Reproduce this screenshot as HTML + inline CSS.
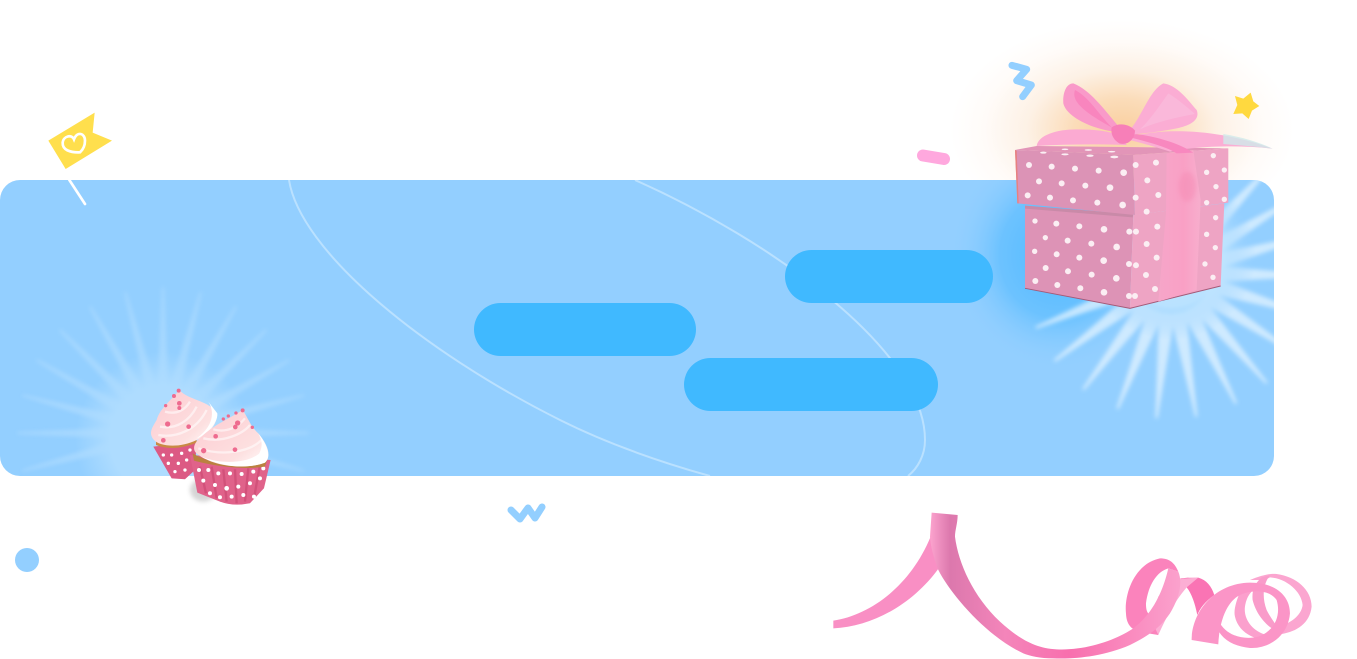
<!DOCTYPE html>
<html><head><meta charset="utf-8"><style>html,body{margin:0;padding:0;background:#fff;width:1357px;height:659px;overflow:hidden}svg{display:block}</style></head>
<body>
<svg width="1357" height="659" viewBox="0 0 1357 659" xmlns="http://www.w3.org/2000/svg">
<defs>
<clipPath id="p"><rect x="0" y="180" width="1274" height="296" rx="20"/></clipPath>
<filter id="b1" x="-50%" y="-50%" width="200%" height="200%"><feGaussianBlur stdDeviation="2"/></filter>
<filter id="b2" x="-50%" y="-50%" width="200%" height="200%"><feGaussianBlur stdDeviation="6"/></filter>
<radialGradient id="orange"><stop offset="0" stop-color="#f9cf9f"/><stop offset=".28" stop-color="#fbdcb9"/><stop offset=".55" stop-color="#fdf1e5"/><stop offset=".8" stop-color="#fffbf8"/><stop offset="1" stop-color="#fff"/></radialGradient>
<radialGradient id="blue"><stop offset="0" stop-color="#4db8ff"/><stop offset=".55" stop-color="#5cbdff" stop-opacity=".7"/><stop offset="1" stop-color="#93cfff" stop-opacity="0"/></radialGradient>
<radialGradient id="lite"><stop offset="0" stop-color="#c8e9ff"/><stop offset=".6" stop-color="#bde4ff" stop-opacity=".9"/><stop offset="1" stop-color="#93cfff" stop-opacity="0"/></radialGradient>
<radialGradient id="lite2"><stop offset="0" stop-color="#aedcff"/><stop offset=".6" stop-color="#aedcff"/><stop offset="1" stop-color="#aedcff" stop-opacity="0"/></radialGradient>
<linearGradient id="rib" gradientUnits="userSpaceOnUse" x1="330" y1="0" x2="1085" y2="0"><stop offset="0" stop-color="#fca3ce"/><stop offset=".08" stop-color="#dc78ad"/><stop offset=".3" stop-color="#f485ba"/><stop offset=".55" stop-color="#f86fae"/><stop offset="1" stop-color="#fba2cd"/></linearGradient>
<linearGradient id="vr" x1="0" y1="0" x2="1" y2="0"><stop offset="0" stop-color="#f6a6c9"/><stop offset=".6" stop-color="#f9a0c5"/><stop offset="1" stop-color="#f7aecd"/></linearGradient>
<linearGradient id="fr" x1="0" y1="0" x2="1" y2="1"><stop offset="0" stop-color="#fdc9d0"/><stop offset=".7" stop-color="#fde0e0"/><stop offset="1" stop-color="#fff"/></linearGradient>
<polygon id="rl" points="30,-6 146,-1 146,1 30,6"/>
<polygon id="rr" points="40,-8 146,-1.200 146,1.200 40,8"/>
</defs>

<!-- glow outside panel -->
<ellipse cx="1122" cy="130" rx="172" ry="110" fill="url(#orange)"/>

<!-- panel -->
<rect x="0" y="180" width="1274" height="296" rx="20" fill="#93cfff"/>
<g clip-path="url(#p)">
  <g fill="#c9e8ff" opacity=".36" filter="url(#b1)" transform="translate(163 433)">
    <use href="#rl" transform="rotate(-195)"/><use href="#rl" transform="rotate(-180)"/><use href="#rl" transform="rotate(-165)"/><use href="#rl" transform="rotate(-150)"/><use href="#rl" transform="rotate(-135)"/><use href="#rl" transform="rotate(-120)"/><use href="#rl" transform="rotate(-105)"/><use href="#rl" transform="rotate(-90)"/><use href="#rl" transform="rotate(-75)"/><use href="#rl" transform="rotate(-60)"/><use href="#rl" transform="rotate(-45)"/><use href="#rl" transform="rotate(-30)"/><use href="#rl" transform="rotate(-15)"/><use href="#rl" transform="rotate(0)"/><use href="#rl" transform="rotate(15)"/>
  </g>
  <circle cx="163" cy="440" r="88" fill="url(#lite2)"/>
  <path d="M289 180C300 250 420 350 560 420C610 445 660 462 710 476" fill="none" stroke="#d4ecff" stroke-opacity=".6" stroke-width="2"/>
  <path d="M635 180C770 240 925 350 925 440C925 455 918 468 908 476" fill="none" stroke="#d4ecff" stroke-opacity=".6" stroke-width="2"/>
  <ellipse cx="1060" cy="255" rx="110" ry="115" fill="url(#blue)"/>
  <g fill="#e0f2ff" opacity=".78" filter="url(#b1)" transform="translate(1171 273)">
    <use href="#rr" transform="rotate(158)"/><use href="#rr" transform="rotate(143)"/><use href="#rr" transform="rotate(127)"/><use href="#rr" transform="rotate(111.500)"/><use href="#rr" transform="rotate(95.700)"/><use href="#rr" transform="rotate(80)"/><use href="#rr" transform="rotate(63.500)"/><use href="#rr" transform="rotate(49)"/><use href="#rr" transform="rotate(33)"/><use href="#rr" transform="rotate(17)"/><use href="#rr" transform="rotate(1)"/><use href="#rr" transform="rotate(-15)"/><use href="#rr" transform="rotate(-31)"/><use href="#rr" transform="rotate(-47)"/>
  </g>
  <circle cx="1171" cy="255" r="85" fill="url(#lite)"/>
</g>

<!-- pills -->
<rect x="785" y="250" width="208" height="53" rx="26.500" fill="#40b9ff"/>
<rect x="474" y="303" width="222" height="53" rx="26.500" fill="#40b9ff"/>
<rect x="684" y="358" width="254" height="53" rx="26.500" fill="#40b9ff"/>

<!-- small decorations -->
<g transform="translate(30 100) scale(.3333)">
  <polygon points="55,122 194,38 188,98 246,122 107,207" fill="#ffdf4d"/>
  <path d="M150 157C120 158 97 150 98 128C100 108 125 102 132 118C142 92 165 100 165 122C165 138 158 150 150 157Z" fill="none" stroke="#fff" stroke-width="8"/>
  <line x1="118" y1="240" x2="165" y2="312" stroke="#fff" stroke-width="8" stroke-linecap="round"/>
</g>
<g transform="translate(980 40) scale(.3333)">
  <polyline points="96,76 140,88 110,122 154,135 128,170" fill="none" stroke="#93cfff" stroke-width="21" stroke-linecap="round" stroke-linejoin="round"/>
  <polygon points="812,158 820,184 838,198 816,212 806,237 787,220 760,222 772,195 765,168 790,176" fill="#ffd93f"/>
</g>
<line x1="923" y1="155.500" x2="944" y2="159" stroke="#ffa8de" stroke-width="12" stroke-linecap="round"/>
<polyline points="511,510 520,519 528,508 535,518 542,507" fill="none" stroke="#93cfff" stroke-width="7" stroke-linecap="round" stroke-linejoin="round"/>
<circle cx="27" cy="560" r="12" fill="#93cfff"/>

<!-- gift box -->
<g transform="translate(980 40) scale(.3333)">
  <polygon points="135,497 460,525 450,805 135,745" fill="#dd93b6"/>
  <polygon points="460,525 733,490 722,738 450,805" fill="#eea4c4"/>
  <polygon points="135,497 460,522 458,532 135,506" fill="#c98aa8"/>
  <polygon points="105,330 170,318 745,325 460,345" fill="#e295b8"/>
  <polygon points="105,330 460,345 465,525 112,490" fill="#dc93b6"/>
  <polygon points="460,345 745,325 745,488 465,525" fill="#eea4c4"/>
  <polygon points="105,330 110,332 116,490 112,490" fill="#e8817f"/>
  <path d="M135 745L450 805L722 738" fill="none" stroke="#a45a78" stroke-width="3"/>
  <g fill="#fbeef3">
    <circle cx="147" cy="375" r="9"/><circle cx="215" cy="380" r="9"/><circle cx="285" cy="386" r="9"/><circle cx="356" cy="392" r="9"/><circle cx="431" cy="398" r="10"/>
    <circle cx="177" cy="424" r="9"/><circle cx="245" cy="430" r="9"/><circle cx="316" cy="437" r="9"/><circle cx="390" cy="443" r="10"/>
    <circle cx="143" cy="466" r="9"/><circle cx="210" cy="473" r="9"/><circle cx="279" cy="481" r="9"/><circle cx="352" cy="488" r="9"/><circle cx="428" cy="495" r="10"/>
    <circle cx="165" cy="543" r="8"/><circle cx="229" cy="551" r="9"/><circle cx="298" cy="559" r="9"/><circle cx="372" cy="568" r="10"/><circle cx="448" cy="575" r="9"/>
    <circle cx="196" cy="593" r="8"/><circle cx="263" cy="602" r="9"/><circle cx="334" cy="611" r="9"/><circle cx="410" cy="621" r="10"/>
    <circle cx="164" cy="634" r="8"/><circle cx="230" cy="643" r="9"/><circle cx="298" cy="653" r="9"/><circle cx="371" cy="662" r="10"/><circle cx="447" cy="672" r="9"/>
    <circle cx="197" cy="684" r="9"/><circle cx="264" cy="694" r="9"/><circle cx="335" cy="704" r="9"/><circle cx="409" cy="715" r="10"/><circle cx="447" cy="768" r="9"/>
    <circle cx="166" cy="723" r="9"/><circle cx="232" cy="735" r="9"/><circle cx="301" cy="745" r="9"/><circle cx="372" cy="757" r="10"/>
    <circle cx="467" cy="375" r="9"/><circle cx="528" cy="368" r="9"/><circle cx="700" cy="347" r="8"/><circle cx="680" cy="397" r="8"/><circle cx="733" cy="390" r="8"/><circle cx="502" cy="421" r="9"/><circle cx="708" cy="440" r="8"/><circle cx="467" cy="473" r="9"/><circle cx="535" cy="465" r="9"/><circle cx="680" cy="488" r="8"/><circle cx="733" cy="478" r="8"/>
    <circle cx="500" cy="515" r="9"/><circle cx="532" cy="560" r="9"/><circle cx="707" cy="533" r="8"/><circle cx="468" cy="575" r="9"/><circle cx="500" cy="612" r="9"/><circle cx="680" cy="583" r="8"/><circle cx="706" cy="623" r="8"/><circle cx="468" cy="676" r="9"/><circle cx="530" cy="653" r="9"/><circle cx="675" cy="672" r="8"/><circle cx="498" cy="705" r="9"/><circle cx="525" cy="747" r="9"/><circle cx="699" cy="712" r="8"/><circle cx="465" cy="768" r="9"/>
    <ellipse cx="190" cy="338" rx="10" ry="3"/><ellipse cx="255" cy="343" rx="11" ry="3"/><ellipse cx="330" cy="347" rx="11" ry="3.500"/><ellipse cx="403" cy="351" rx="12" ry="4"/><ellipse cx="255" cy="328" rx="10" ry="2.500"/><ellipse cx="325" cy="330" rx="11" ry="2.500"/><ellipse cx="395" cy="335" rx="11" ry="2.500"/>
  </g>
  <!-- vertical ribbon -->
  <polygon points="560,340 640,330 662,480 650,750 535,785 558,520" fill="url(#vr)"/>
  <ellipse cx="622" cy="440" rx="26" ry="45" fill="#f58bb4" opacity=".5" filter="url(#b2)"/>
  <!-- ribbon tails -->
  <path d="M170 318C175 285 230 268 290 268C340 268 390 272 430 290L440 315C360 312 260 312 170 318Z" fill="#fbaad2"/>
  <path d="M450 290C560 262 720 268 878 326C760 312 620 322 570 335C520 318 480 308 450 300Z" fill="#fbaed4"/>
  <path d="M730 282C790 292 840 308 878 326C830 320 780 316 730 312Z" fill="#cfeaea" opacity=".8"/>
  <path d="M450 292C500 305 560 320 590 340L640 338C590 305 510 285 450 280Z" fill="#f888bf"/>
  <!-- bow -->
  <path d="M415 258C370 205 330 150 280 130C258 130 248 160 250 190C258 225 320 262 400 275Z" fill="#f99ac9"/>
  <path d="M285 150C275 180 300 210 395 262C350 215 325 170 285 150Z" fill="#f985be"/>
  <path d="M450 270C490 220 510 150 550 130C590 135 620 175 650 210C660 235 640 255 590 265C540 275 490 280 450 285Z" fill="#fbadd4"/>
  <path d="M480 268C530 245 600 230 645 222C620 200 590 175 565 160C540 195 510 240 480 268Z" fill="#fab8da"/>
  <path d="M395 262C420 245 452 255 465 272C465 295 445 318 418 310C398 298 392 280 395 262Z" fill="#f77fb8"/>
</g>

<!-- cupcakes -->
<g transform="translate(0 270) scale(.3333)">
  <ellipse cx="610" cy="660" rx="40" ry="35" fill="#777" opacity=".3" filter="url(#b2)"/>
  <!-- back -->
  <polygon points="460,530 590,515 585,600 555,628 515,625" fill="#dc5a84"/>
  <g fill="#fff"><circle cx="490" cy="555" r="5"/><circle cx="515" cy="555" r="5"/><circle cx="545" cy="550" r="5"/><circle cx="505" cy="580" r="5"/><circle cx="535" cy="580" r="5"/><circle cx="560" cy="570" r="5"/><circle cx="525" cy="605" r="5"/><circle cx="555" cy="600" r="5"/><circle cx="570" cy="540" r="5"/></g>
  <path d="M468 525C505 540 550 535 590 518L590 505L468 510Z" fill="#c98a44"/>
  <path d="M538 360C565 390 620 390 648 425C660 450 630 495 590 510C540 535 480 530 462 510C445 490 455 475 470 450C480 415 510 395 538 360Z" fill="url(#fr)"/>
  <path d="M625 395C645 425 640 470 590 505C615 498 655 460 652 430Z" fill="#fff"/>
  <path d="M480 470C530 480 570 450 590 410M475 495C530 505 590 480 620 420M495 425C530 435 555 420 570 395" fill="none" stroke="#fff" stroke-opacity=".55" stroke-width="7"/>
  <g fill="#ee6b8f"><circle cx="536" cy="362" r="6"/><circle cx="522" cy="378" r="6"/><circle cx="538" cy="400" r="7"/><circle cx="538" cy="414" r="6"/><circle cx="503" cy="462" r="8"/><circle cx="566" cy="470" r="7"/><circle cx="490" cy="511" r="7"/><circle cx="497" cy="407" r="5"/></g>
  <!-- front -->
  <path d="M570 555L812 570L792 655L750 700Q700 710 660 695L592 668Z" fill="#e0628a"/>
  <path d="M600 590L618 670M635 590L650 685M670 598L680 695M705 598L710 700M745 595L735 695M780 585L762 685" stroke="#c8466f" stroke-width="7" fill="none" opacity=".6"/>
  <g fill="#fff"><circle cx="597" cy="600" r="6"/><circle cx="625" cy="600" r="6"/><circle cx="655" cy="610" r="6"/><circle cx="690" cy="610" r="6"/><circle cx="725" cy="612" r="6"/><circle cx="760" cy="605" r="6"/><circle cx="790" cy="595" r="6"/><circle cx="610" cy="632" r="6"/><circle cx="645" cy="645" r="6"/><circle cx="680" cy="655" r="7"/><circle cx="715" cy="650" r="6"/><circle cx="750" cy="640" r="6"/><circle cx="780" cy="625" r="6"/><circle cx="630" cy="670" r="6"/><circle cx="660" cy="682" r="6"/><circle cx="695" cy="680" r="6"/><circle cx="730" cy="675" r="6"/><circle cx="762" cy="680" r="6"/></g>
  <path d="M578 550C620 575 720 605 802 568L795 590C730 600 650 590 582 572Z" fill="#ba8140"/>
  <path d="M728 420C745 445 752 470 775 490C805 525 815 560 795 578C735 600 640 590 592 552C570 535 590 510 605 500C640 465 690 445 728 420Z" fill="url(#fr)"/>
  <path d="M775 490C800 520 815 560 795 578C745 598 660 592 600 558C660 585 745 580 778 550C790 525 785 510 775 490Z" fill="#fff"/>
  <path d="M610 505C670 520 730 490 750 465M595 535C670 560 750 545 785 510M640 478C680 490 715 470 735 445" fill="none" stroke="#fff" stroke-opacity=".55" stroke-width="7"/>
  <g fill="#ee6b8f"><circle cx="728" cy="421" r="6"/><circle cx="708" cy="429" r="5"/><circle cx="685" cy="438" r="5"/><circle cx="670" cy="447" r="5"/><circle cx="713" cy="459" r="8"/><circle cx="706" cy="471" r="7"/><circle cx="647" cy="499" r="7"/><circle cx="611" cy="542" r="8"/><circle cx="705" cy="539" r="7"/><circle cx="757" cy="472" r="5"/></g>
</g>

<!-- ribbon -->
<g transform="translate(820 500) scale(.3333)">
  <path d="M40 362C150 345 270 260 332 110L356 205C280 310 160 380 40 385Z" fill="#f98fc4"/>
  <!-- far rings -->
  <path d="M1290 240C1320 228 1345 220 1370 222C1430 230 1475 270 1475 320C1470 370 1430 395 1385 402L1370 378C1410 375 1445 345 1448 315C1445 275 1400 235 1350 232L1335 240Z" fill="#fba6d0"/>
  <path d="M1325 232L1350 226C1330 250 1325 290 1340 330C1350 350 1365 370 1385 400C1350 390 1310 350 1298 300C1295 270 1305 250 1325 232Z" fill="#f99cca"/>
  <path d="M1262 272C1250 300 1240 330 1245 350C1255 395 1300 420 1345 420L1340 405C1300 395 1270 360 1275 320C1278 300 1285 285 1295 275Z" fill="#fba0cd"/>
  <path d="M1080 236C1100 232 1115 234 1135 233C1160 240 1175 260 1183 285C1155 305 1140 325 1132 345C1125 310 1115 280 1100 262Z" fill="#fa74b4"/>
  <path d="M1090 236L1135 233L1100 262C1060 310 1040 350 1015 405L985 395L1015 290C1040 260 1065 240 1090 236Z" fill="#fcaed4"/>
  <path d="M1020 175C1050 175 1065 190 1075 215L1045 205C1010 215 985 255 978 310C978 325 980 335 985 340L1015 405L985 400C945 395 920 385 918 340C912 280 945 190 1020 175Z" fill="#fb83bc"/>
  <path d="M335 38L413 45C413 70 405 90 405 110C415 190 460 290 540 365C590 410 640 445 710 448C790 452 880 425 940 385C1000 340 1030 270 1045 205L1075 215C1090 250 1075 300 1050 340C1020 385 980 410 930 435C850 470 760 478 700 475C660 475 630 468 610 460C500 410 390 280 355 210C340 170 332 140 330 110Z" fill="url(#rib)"/>
  <path d="M1115 420C1115 340 1180 250 1290 248C1370 248 1410 290 1410 340C1405 405 1350 447 1290 444C1250 440 1215 425 1197 395L1200 370C1225 410 1275 420 1315 410C1360 395 1385 350 1370 300C1350 270 1300 268 1260 285C1220 305 1198 365 1195 433Z" fill="#fb95c7"/>
</g>
</svg>
</body></html>
